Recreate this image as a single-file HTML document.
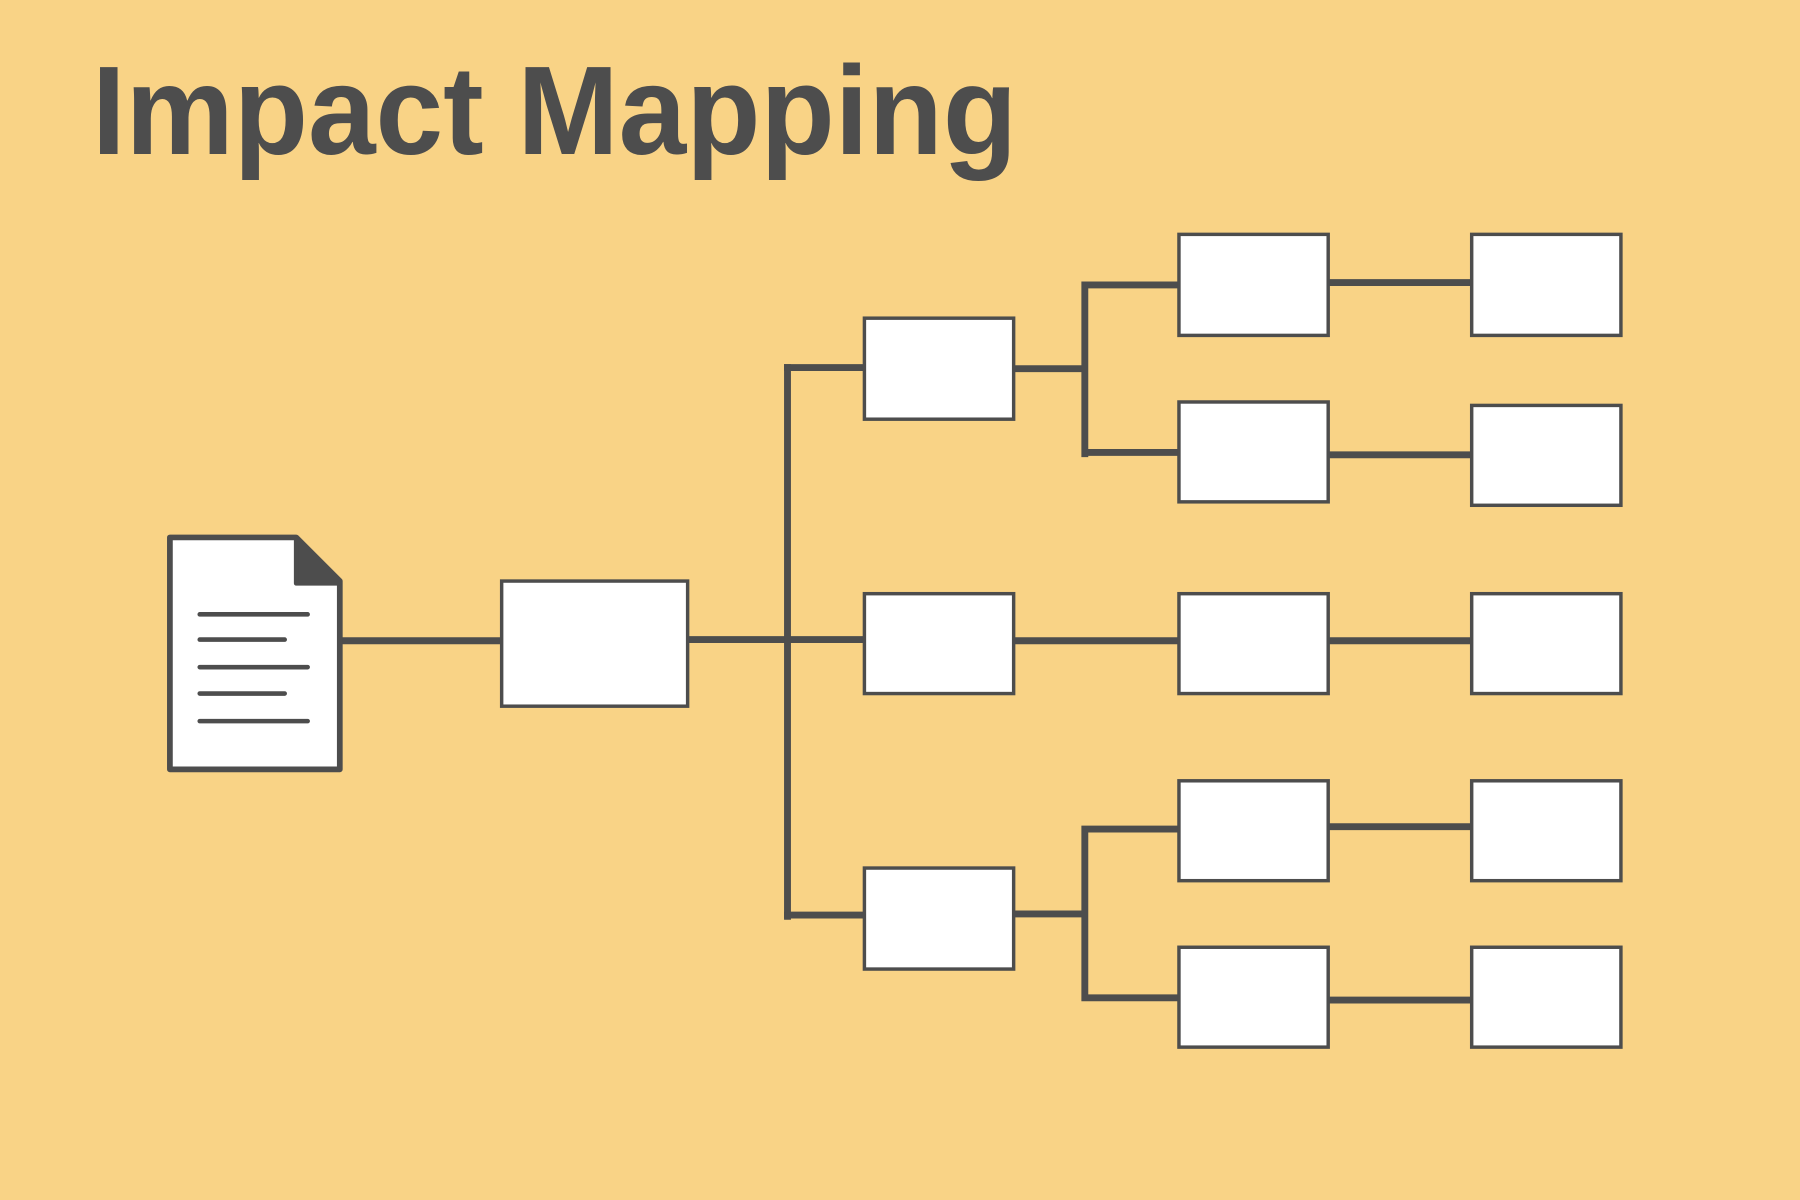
<!DOCTYPE html>
<html><head><meta charset="utf-8"><style>
html,body{margin:0;padding:0;background:#f9d386;}
svg{display:block;}
</style></head><body>
<svg width="1800" height="1200" viewBox="0 0 1568 1045" xmlns="http://www.w3.org/2000/svg">
<rect width="1568" height="1045" fill="#f9d386"/>
<text x="80" y="134" font-family="Liberation Sans, sans-serif" font-weight="bold" font-size="110" fill="#4d4d4d" textLength="806" lengthAdjust="spacingAndGlyphs">Impact Mapping</text>
<g stroke="#4d4d4d" stroke-width="6" fill="none" stroke-linecap="square">
<path d="M296 558H437"/>
<path d="M599 557H686"/>
<path d="M686 320V798"/>
<path d="M686 320H753M686 557H753M686 797H753"/>
<path d="M883 321H945M945 248V395M945 248H1027M945 394H1027"/>
<path d="M883 558H1027"/>
<path d="M883 796H945M945 722V869M945 722H1027M945 869H1027"/>
<path d="M1157 246H1282M1157 396H1282M1157 558H1282M1157 720H1282M1157 871H1282"/>
</g>
<g fill="#fff" stroke="#4d4d4d" stroke-width="3">
<rect x="437" y="506" width="162" height="109"/>
<rect x="753" y="277" width="130" height="88"/>
<rect x="753" y="517" width="130" height="87"/>
<rect x="753" y="756" width="130" height="88"/>
<rect x="1027" y="204" width="130" height="88"/>
<rect x="1027" y="350" width="130" height="87"/>
<rect x="1027" y="517" width="130" height="87"/>
<rect x="1027" y="680" width="130" height="87"/>
<rect x="1027" y="825" width="130" height="87"/>
<rect x="1282" y="204" width="130" height="88"/>
<rect x="1282" y="353" width="130" height="87"/>
<rect x="1282" y="517" width="130" height="87"/>
<rect x="1282" y="680" width="130" height="87"/>
<rect x="1282" y="825" width="130" height="87"/>
</g>
<path d="M148 468H258L296 506V670H148Z" fill="#fff" stroke="#4d4d4d" stroke-width="5" stroke-linejoin="round"/>
<path d="M258 468V508H296Z" fill="#4d4d4d" stroke="#4d4d4d" stroke-width="4" stroke-linejoin="round"/>
<g stroke="#4d4d4d" stroke-width="4" stroke-linecap="round">
<path d="M174 535H268M174 557H248M174 581H268M174 604H248M174 628H268"/>
</g>
</svg>
</body></html>
